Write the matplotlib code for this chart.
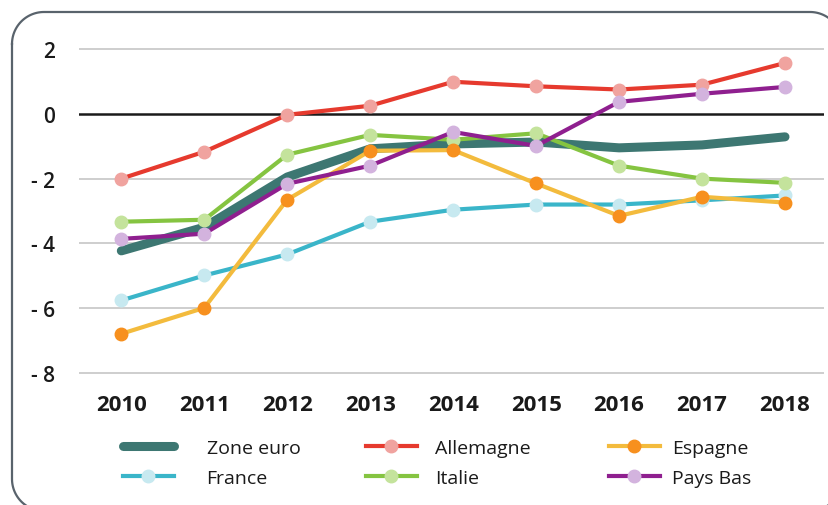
import numpy as np
import matplotlib
matplotlib.use("Agg")
import matplotlib.pyplot as plt
from matplotlib.lines import Line2D
from matplotlib.transforms import IdentityTransform

plt.rcParams["font.family"] = ["Open Sans", "DejaVu Sans"]

years = [2010, 2011, 2012, 2013, 2014, 2015, 2016, 2017, 2018]

zone_euro = [-4.23, -3.5, -1.95, -1.08, -0.93, -0.87, -1.05, -0.96, -0.71]
allemagne = [-2.0, -1.17, -0.03, 0.25, 0.99, 0.85, 0.75, 0.9, 1.57]
espagne = [-6.79, -5.99, -2.65, -1.14, -1.12, -2.15, -3.15, -2.56, -2.74]
france = [-5.76, -4.99, -4.34, -3.33, -2.96, -2.8, -2.8, -2.67, -2.52]
italie = [-3.33, -3.27, -1.26, -0.65, -0.8, -0.6, -1.6, -2.0, -2.13]
pays_bas = [-3.86, -3.7, -2.16, -1.6, -0.56, -0.99, 0.37, 0.62, 0.83]

y_ticks = [2, 0, -2, -4, -6, -8]
y_tick_labels = ["2", "0", "- 2", "- 4", "- 6", "- 8"]

# (name, values, line colour, marker colour)
series = [
    ("France", france, "#3ab5c9", "#c7e9f0"),
    ("Allemagne", allemagne, "#e63a2e", "#f0a39f"),
    ("Italie", italie, "#85c441", "#c4e39c"),
    ("Espagne", espagne, "#f3bb3d", "#f7901e"),
    ("Pays Bas", pays_bas, "#8f1f8f", "#d3b3de"),
]

fig = plt.figure(figsize=(8.29, 5.06), dpi=100)
ax = fig.add_axes([79 / 829, 0.2545, (824 - 79) / 829, 0.9075 - 0.2545])

# rounded frame around everything, in pixels (origin bottom left)
left, right, top, bottom, r = 12, 842, 493, -6, 32
a = np.linspace(0, np.pi / 2, 30)
fx = np.concatenate([[left], left + r - r * np.cos(a), right - r + r * np.sin(a),
                     [right], [right], right - r + r * np.cos(a),
                     left + r - r * np.sin(a), [left], [left]])
fy = np.concatenate([[top - r], top - r + r * np.sin(a), top - r + r * np.cos(a),
                     [top - r], [bottom + r], bottom + r - r * np.sin(a),
                     bottom + r - r * np.cos(a), [bottom + r], [top - r]])
fig.add_artist(Line2D(fx, fy, transform=IdentityTransform(), color="#59636c",
                      lw=1.6, solid_joinstyle="round"))

handles = {}
h, = ax.plot(years, zone_euro, color="#3d7772", lw=6.5, solid_capstyle="round",
             zorder=2, label="Zone euro")
handles["Zone euro"] = h
for i, (name, vals, lc, mc) in enumerate(series):
    h, = ax.plot(years, vals, color=lc, lw=3, marker="o", markersize=9,
                 markerfacecolor=mc, markeredgecolor=mc, zorder=3 + i, label=name)
    handles[name] = h

for t in y_ticks:
    if t == 0:
        ax.axhline(0, color="#1a1a1a", lw=1.8, zorder=1)
    else:
        ax.axhline(t, color="#c6c6c6", lw=1.2, zorder=1)

ax.set_xlim(2009.49, 2018.47)
ax.set_ylim(-8.1, 2.1)
ax.set_yticks(y_ticks)
ax.set_yticklabels(y_tick_labels, fontsize=15, fontweight="semibold", color="#1a1a1a")
ax.set_xticks(years)
ax.set_xticklabels([str(y) for y in years], fontsize=16, fontweight="bold", color="#1a1a1a")
ax.tick_params(axis="y", length=0, pad=17)
ax.tick_params(axis="x", length=0, pad=13)
for s in ax.spines.values():
    s.set_visible(False)

# legend: three columns placed one by one
columns = [(["Zone euro", "France"], 123, 1.7),
           (["Allemagne", "Italie"], 366, 0.95),
           (["Espagne", "Pays Bas"], 609, 0.65)]
for names, x0, pad in columns:
    leg = fig.legend([handles[n] for n in names], names, loc="upper left",
                     bbox_to_anchor=(x0 / 829, 1 - 440 / 506), frameon=False,
                     fontsize=14, handlelength=2.6, handletextpad=pad,
                     labelspacing=0.62, borderpad=0, borderaxespad=0)
    for txt in leg.get_texts():
        txt.set_color("#1a1a1a")

fig.savefig("out.png", dpi=100)
